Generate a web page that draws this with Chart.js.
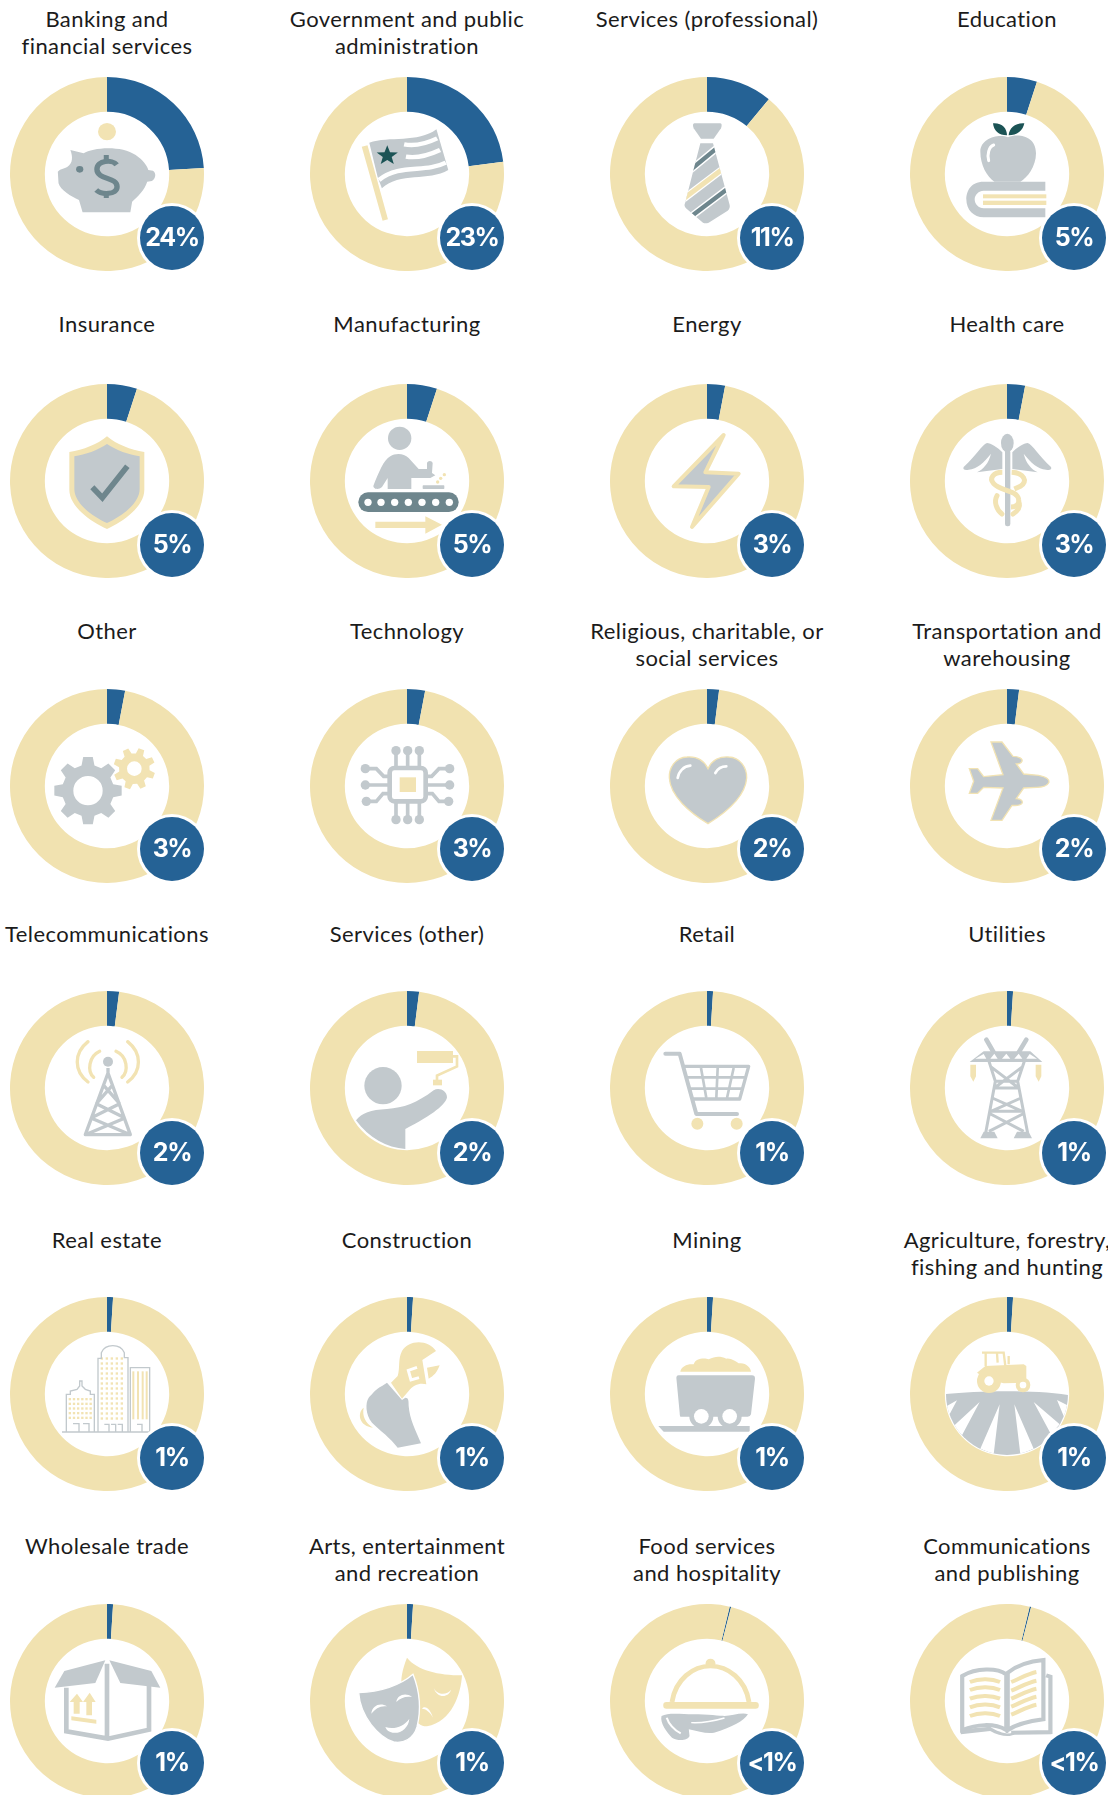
<!DOCTYPE html>
<html>
<head>
<meta charset="utf-8">
<title>Respondents by industry</title>
<script src="https://cdn.jsdelivr.net/npm/chart.js@4"></script>
<style>
  html, body { margin: 0; padding: 0; background: #fff; width: 1108px; height: 1795px; overflow: hidden; }
  #page { position: relative; width: 1108px; height: 1795px; overflow: hidden; font-family: Lato, sans-serif; }
  .title { position: absolute; width: 300px; text-align: center; white-space: pre-line; font-size: 22px; line-height: 27px; letter-spacing: 0.42px; color: #1b1b1b; }
  canvas { position: absolute; }
  .icon { position: absolute; width: 124px; height: 124px; overflow: visible; }
  .badge { position: absolute; width: 64px; height: 64px; line-height: 63px; border-radius: 50%; background: #256295; box-shadow: 0 0 0 3px #fff; color: #fff; text-align: center; font-family: Inter, sans-serif; font-weight: 700; font-size: 25px; letter-spacing: -1.4px; }
  .g { fill: #c2c9cd; } .y { fill: #f2e3b3; } .d { fill: #6e868d; } .n { fill: #1b5355; } .w { fill: #fff; }
  .sg, .sy, .sd, .sw { fill: none; }
  .sg { stroke: #c2c9cd; } .sy { stroke: #f2e3b3; } .sd { stroke: #6e868d; } .sw { stroke: #fff; }
</style>
</head>
<body>
<div id="page"></div>
<script>
const categories = [
  'Banking and\nfinancial services', 'Government and public\nadministration', 'Services (professional)', 'Education',
  'Insurance', 'Manufacturing', 'Energy', 'Health care',
  'Other', 'Technology', 'Religious, charitable, or\nsocial services', 'Transportation and\nwarehousing',
  'Telecommunications', 'Services (other)', 'Retail', 'Utilities',
  'Real estate', 'Construction', 'Mining', 'Agriculture, forestry,\nfishing and hunting',
  'Wholesale trade', 'Arts, entertainment\nand recreation', 'Food services\nand hospitality', 'Communications\nand publishing'
];
const shares = [24, 23, 11, 5, 5, 5, 3, 3, 3, 3, 2, 2, 2, 2, 1, 1, 1, 1, 1, 1, 1, 1, 0.25, 0.25];
const shareLabels = ['24%', '23%', '11%', '5%', '5%', '5%', '3%', '3%', '3%', '3%', '2%', '2%', '2%', '2%', '1%', '1%', '1%', '1%', '1%', '1%', '1%', '1%', '<1%', '<1%'];
const sliverRotation = 13.5; // the <1% rings start off the vertical

const columnCenters = [107, 407, 707, 1007];
const rowCenters = [174, 481, 786, 1088, 1394, 1701];
const titleTops = [5, 310, 617, 920, 1226, 1532];
const badgeXs = [172, 472, 772, 1074];
const badgeYs = [238, 545, 849, 1153, 1458, 1763];

const BLUE = '#256295';
const YELLOW = '#f1e2b0';

function star(cx, cy, r) {
  let pts = [];
  for (let i = 0; i < 10; i++) {
    const a = -Math.PI / 2 + i * Math.PI / 5;
    const rr = i % 2 ? r * 0.42 : r;
    pts.push((cx + rr * Math.cos(a)).toFixed(1) + ',' + (cy + rr * Math.sin(a)).toFixed(1));
  }
  return pts.join(' ');
}

function gear(cx, cy, outer, root, hole, teeth, rot) {
  let d = '';
  const step = Math.PI * 2 / teeth;
  for (let i = 0; i < teeth; i++) {
    const a = rot + i * step - Math.PI / 2;
    const p = [[root, a - step * 0.32], [outer, a - step * 0.18], [outer, a + step * 0.18], [root, a + step * 0.32]];
    p.forEach((q, k) => {
      d += (i === 0 && k === 0 ? 'M' : 'L') + (cx + q[0] * Math.cos(q[1])).toFixed(1) + ',' + (cy + q[0] * Math.sin(q[1])).toFixed(1);
    });
  }
  d += 'Z M' + (cx + hole) + ',' + cy + ' a' + hole + ',' + hole + ' 0 1 0 ' + (-2 * hole) + ',0 a' + hole + ',' + hole + ' 0 1 0 ' + (2 * hole) + ',0Z';
  return d;
}

function dots(x0, y0, nx, ny, dx, dy, size) {
  let s = '';
  for (let i = 0; i < nx; i++) for (let j = 0; j < ny; j++) {
    s += `<rect class="y" x="${x0 + i * dx}" y="${y0 + j * dy}" width="${size}" height="${size}"/>`;
  }
  return s;
}

// icons are sketched in zoomed-picture units, 372 units across the hole of the ring
const icons = [
  // piggy bank
  `<g transform="scale(1.077,1) translate(-300,-522)">
    <ellipse class="y" cx="300" cy="395" rx="25" ry="26"/>
    <path class="g" d="M198,450 L235,460 C260,442 340,435 380,465 C400,480 412,497 415,510 L428,512 C438,520 436,535 425,543 L412,545 C405,570 385,590 370,605 L365,637 L232,637 L222,600 C200,590 170,570 165,550 L163,515 C170,505 185,505 190,500 C205,490 205,470 198,450Z"/>
    <circle class="d" cx="224" cy="508" r="10"/>
    <path class="sd" stroke-width="15" d="M327,494 C315,478 272,480 272,508 C272,540 328,530 328,560 C328,585 285,585 270,570"/>
    <path class="sd" stroke-width="14" d="M298,465 V482 M298,578 V594"/>
  </g>`,
  // flag
  `<g transform="scale(1.077,1) translate(-1140,-522)">
    <polygon class="y" points="1014,440 1030,436 1087,658 1072,662"/>
    <path class="g" d="M1035,428 C1090,408 1170,430 1222,388 L1255,510 C1200,545 1120,515 1070,565 L1058,530Z"/>
    <path class="sw" stroke-width="13" d="M1132,433 C1165,440 1195,430 1224,415 M1137,470 C1170,476 1200,466 1232,450 M1062,540 C1120,490 1190,520 1248,488"/>
    <polygon class="n" points="${star(1085, 467, 31)}"/>
  </g>`,
  // tie
  `<g transform="translate(-200,-222)">
    <clipPath id="tieClip"><path d="M180,130 L218,130 L268,315 Q270,325 262,332 L205,368 Q195,372 188,368 L137,325 Q130,318 134,310Z"/></clipPath>
    <path class="g" d="M162,70 L240,70 Q247,72 242,85 L220,116 L182,116 L160,85 Q155,72 162,70Z"/>
    <path class="g" d="M180,130 L218,130 L268,315 Q270,325 262,332 L205,368 Q195,372 188,368 L137,325 Q130,318 134,310Z"/>
    <g clip-path="url(#tieClip)">
      <path class="sw" stroke-width="22" d="M235,140 L150,210 M250,205 L125,300 M270,260 L145,355"/>
      <path class="sd" stroke-width="13" d="M235,140 L150,210 M270,260 L145,355"/>
      <path class="sy" stroke-width="15" d="M250,205 L125,300"/>
    </g>
  </g>`,
  // apple on book
  `<g transform="translate(-1100,-222)">
    <path class="n" d="M1058,70 C1085,68 1100,85 1100,106 C1075,106 1060,92 1058,70Z M1152,70 C1125,68 1106,85 1105,106 C1130,106 1148,92 1152,70Z"/>
    <path class="g" d="M1103,112 C1130,100 1187,105 1187,160 C1187,200 1160,235 1140,245 L1062,245 C1040,230 1020,195 1020,155 C1020,115 1075,100 1103,112Z"/>
    <path class="sw" stroke-width="9" stroke-linecap="round" d="M1060,135 C1045,140 1040,165 1045,182"/>
    <path class="g" d="M1215,245 L1030,245 C990,245 978,275 978,298 C978,330 1000,352 1030,352 L1215,352 L1215,325 L1030,325 C1015,325 1003,312 1003,298 C1003,285 1015,272 1030,272 L1215,272Z"/>
    <rect class="y" x="1028" y="283" width="190" height="12"/><rect class="y" x="1028" y="302" width="190" height="13"/>
  </g>`,
  // shield
  `<g transform="translate(-200,-214)">
    <path class="y" d="M200,80 C230,105 270,120 312,127 L312,240 C312,290 250,335 200,358 C150,335 87,290 87,240 L87,127 C130,120 170,105 200,80Z"/>
    <path class="g" d="M200,103 C228,122 265,135 298,140 L298,238 C298,280 245,320 200,340 C155,320 102,280 102,238 L102,140 C135,135 172,122 200,103Z"/>
    <polyline class="sd" stroke-width="17" points="156,233 186,264 261,170"/>
  </g>`,
  // worker at conveyor
  `<g transform="translate(-1100,-214)">
    <circle class="g" cx="1078" cy="86" r="35"/>
    <path class="g" d="M1000,226 C1015,190 1030,150 1050,140 C1065,130 1090,130 1105,145 L1135,178 L1160,178 L1160,160 C1162,152 1175,152 1177,160 L1175,190 L1185,197 L1170,205 L1113,205 L1113,238 L1042,238 L1042,205 L1025,232 C1015,242 995,238 1000,226Z"/>
    <rect class="g" x="1147" y="227" width="65" height="11" rx="2"/>
    <circle class="y" cx="1212" cy="195" r="5"/><circle class="y" cx="1201" cy="206" r="5"/><circle class="y" cx="1192" cy="217" r="5"/>
    <rect class="d" x="954" y="248" width="301" height="59" rx="29"/>
    ${[983, 1022, 1063, 1104, 1145, 1186, 1227].map(x => `<circle class="w" cx="${x}" cy="278" r="11"/>`).join('')}
    <path class="y" d="M1005,336 L1155,336 L1155,320 L1205,345 L1155,372 L1155,355 L1005,355Z"/>
  </g>`,
  // lightning bolt
  `<g transform="translate(-200,-214)">
    <path class="g" style="stroke:#f2e3b3;stroke-width:12;stroke-linejoin:round" d="M250,76 L100,230 L205,232 L155,352 L295,192 L195,188Z"/>
  </g>`,
  // caduceus
  `<g transform="translate(-1100,-214)">
    <ellipse class="g" cx="1101" cy="100" rx="19" ry="28"/>
    <rect class="g" x="1094" y="120" width="16" height="230" rx="7"/>
    <path id="wing" class="g" d="M1086,128 C1075,115 1050,100 1040,100 C1025,105 1005,140 970,172 C966,180 975,183 985,180 C1010,178 1030,160 1052,132 C1045,160 1030,178 1010,188 L1086,178Z"/>
    <use href="#wing" transform="translate(2202,0) scale(-1,1)"/>
    <path class="sy" stroke-width="15" d="M1086,188 C1060,188 1045,205 1060,222 C1080,245 1130,240 1135,270 C1138,285 1125,292 1112,292"/>
    <path class="sy" stroke-width="15" d="M1114,188 C1150,190 1165,215 1140,230 L1122,238"/>
    <path class="sy" stroke-width="15" stroke-linecap="round" d="M1070,258 C1060,275 1068,300 1085,313 M1137,282 C1140,295 1130,305 1118,313"/>
  </g>`,
  // gears
  `<g transform="translate(-200,-214)">
    <path class="g" fill-rule="evenodd" d="${gear(143, 228, 102, 78, 44, 8, 0)}"/>
    <path class="y" fill-rule="evenodd" d="${gear(282, 162, 63, 46, 22, 8, 0.35)}"/>
  </g>`,
  // chip
  `<g transform="translate(-1100,-214)">
    <rect class="sg" stroke-width="14" x="1048" y="160" width="108" height="100" rx="14"/>
    <rect class="y" x="1078" y="188" width="49" height="44"/>
    <path class="sg" stroke-width="11" d="M1067,155 V108 M1102,155 V108 M1137,155 V108 M1067,265 V315 M1102,265 V315 M1137,265 V315
      M975,162 H1008 L1030,185 H1048 M975,211 H1048 M978,260 H1008 L1028,237 H1048
      M1228,162 H1196 L1174,185 H1156 M1228,211 H1156 M1225,260 H1196 L1176,237 H1156"/>
    ${[[1067, 108], [1102, 108], [1137, 108], [1067, 315], [1102, 315], [1137, 315], [975, 162], [975, 211], [978, 260], [1228, 162], [1228, 211], [1225, 260]].map(p => `<circle class="g" cx="${p[0]}" cy="${p[1]}" r="14"/>`).join('')}
  </g>`,
  // heart
  `<g transform="translate(-200,-214)">
    <path class="g" style="stroke:#f2e3b3;stroke-width:4" d="M203,162 C190,135 165,125 140,127 C105,128 85,160 87,190 C90,245 150,295 203,327 C255,295 315,245 319,190 C320,160 300,128 265,127 C240,125 215,135 203,162Z"/>
    <path class="sw" stroke-width="8" stroke-linecap="round" d="M112,190 C115,170 130,155 150,153 M225,175 C232,162 245,155 258,155"/>
  </g>`,
  // plane
  `<g transform="translate(-1100,-214)">
    <path class="g" style="stroke:#f2e3b3;stroke-width:4" d="M1052,82 L1085,82 L1118,125 C1135,125 1148,132 1145,140 C1142,148 1130,148 1128,148 L1150,178 L1195,182 C1220,187 1228,195 1226,203 C1222,213 1205,218 1190,218 L1150,220 L1128,252 C1145,252 1148,262 1145,266 C1140,272 1125,273 1115,272 L1085,317 L1052,317 L1088,220 L1030,218 L1012,236 L987,236 L1000,200 L987,162 L1012,162 L1030,186 L1088,180Z"/>
  </g>`,
  // antenna
  `<g transform="translate(-200,-215)">
    <path class="sy" stroke-width="10" stroke-linecap="round" d="M143,76 C100,110 100,165 143,197 M178,105 C145,120 140,165 160,183 M262,76 C305,110 305,165 262,197 M227,105 C262,120 265,165 245,183"/>
    <circle class="g" cx="203" cy="136" r="15"/>
    <path class="sg" stroke-width="10" stroke-linejoin="round" d="M203,155 V180 M135,355 L203,170 L270,355 Z M188,205 L238,262 M218,205 L168,262 M168,262 L254,305 M238,262 L152,305 M152,305 L270,355 M254,305 L135,355"/>
  </g>`,
  // painter
  `<g transform="translate(-1100,-215)">
    <circle class="g" cx="1028" cy="208" r="56"/>
    <path class="g" d="M947,312 C965,290 990,280 1040,278 C1090,275 1130,260 1180,222 C1195,212 1220,222 1220,243 C1218,262 1180,295 1095,338 L1095,398 C1040,395 985,365 947,312Z"/>
    <rect class="y" x="1130" y="104" width="108" height="36"/>
    <path class="sy" stroke-width="8" d="M1238,120 L1250,120 L1250,150 L1190,178 L1190,195"/>
    <rect class="y" x="1178" y="190" width="27" height="17"/>
  </g>`,
  // cart
  `<g transform="translate(-200,-215)">
    <path class="sg" stroke-width="12" stroke-linecap="round" stroke-linejoin="round" d="M75,112 L118,112 L168,293 L290,293"/>
    <path class="sg" stroke-width="10" stroke-linejoin="round" d="M130,150 L325,150 L298,248 L155,248"/>
    <path class="sg" stroke-width="8" d="M138,183 H316 M148,217 H306 M182,155 L198,245 M232,155 L228,245 M280,155 L260,245"/>
    <circle class="y" cx="171" cy="322" r="18"/><circle class="y" cx="289" cy="322" r="18"/>
  </g>`,
  // pylon
  `<g transform="translate(-1100,-215)">
    <path class="sg" stroke-width="14" stroke-linecap="round" d="M1038,70 L1060,108 M1158,70 L1135,108"/>
    <polygon class="g" points="988,137 1030,105 1170,105 1206,137"/>
    <path class="w" d="M1005,127 L1030,113 L1038,127Z M1050,127 L1062,112 L1072,127Z M1085,127 L1098,112 L1110,127Z M1122,127 L1135,112 L1146,127Z M1158,127 L1168,113 L1190,127Z"/>
    <path class="sg" stroke-width="9" d="M1046,135 L1065,195 L1036,350 M1152,135 L1132,195 L1162,350 M1050,150 L1135,215 M1148,150 L1062,215 M1065,195 H1132 M1058,215 H1140 M1056,245 L1146,285 M1142,245 L1052,285 M1048,285 H1150 M1045,290 L1150,345 M1153,290 L1046,345"/>
    <path class="g" d="M1020,366 L1030,346 L1062,346 L1072,366Z M1120,366 L1130,346 L1165,346 L1175,366Z"/>
    <path class="y" d="M990,145 L1007,145 L1007,180 L999,196 L990,180Z M1186,145 L1203,145 L1203,180 L1195,196 L1186,180Z"/>
  </g>`,
  // buildings
  `<g transform="translate(-200,-214)">
    ${dots(85, 226, 6, 5, 12.5, 14, 7)}${dots(181, 104, 5, 13, 15, 15, 7)}
    ${[276, 290, 304, 316].map(x => `<rect class="y" x="${x}" y="146" width="6" height="144"/>`).join('')}
    <path class="sg" stroke-width="4" d="M65,328 H326 M78,328 V215 H90 V205 L110,200 L118,190 V175 H125 V190 L135,200 L150,205 V215 H162 V328 M173,328 V107 H183 V90 C195,62 240,62 252,90 V105 H263 V328 M270,328 V135 H328 V328
      M98,303 h18 v25 M128,303 h18 v25 M192,305 h14 v23 M212,305 h14 v23 M232,305 h14 v23 M290,305 h15 v23"/>
  </g>`,
  // wrench and fist
  `<g transform="translate(-1100,-214)">
    <path class="y" d="M1187,85 C1165,50 1105,50 1085,85 C1072,110 1080,135 1072,160 L1052,180 L1085,228 L1105,205 C1120,185 1140,180 1158,185 L1146,112Z M1160,135 L1198,128 C1190,150 1180,160 1165,168Z"/>
    <path class="sw" stroke-width="9" d="M1130,134 L1104,143 L1112,172 L1136,165"/>
    <path class="y" d="M970,255 C950,270 955,310 998,315 C975,300 965,280 970,255Z"/>
    <path class="g" d="M1040,180 L1085,232 L1095,225 C1105,225 1105,235 1105,250 C1108,290 1125,320 1142,362 L1072,375 C1050,345 1020,325 995,300 C975,275 975,240 985,225 C995,215 1005,200 1025,190Z"/>
  </g>`,
  // mine cart
  `<g transform="translate(-200,-214)">
    <path class="y" d="M120,147 C122,130 145,122 160,125 C165,105 195,105 205,110 C225,100 240,100 258,108 C270,105 290,118 295,122 C315,118 332,135 332,147Z"/>
    <path class="g" d="M108,165 Q108,158 115,158 L335,158 Q344,158 344,168 L332,275 Q330,282 322,282 L120,282 Q118,280 118,270Z"/>
    <circle class="g" cx="183" cy="281" r="36"/><circle class="g" cx="268" cy="281" r="36"/>
    <circle class="w" cx="183" cy="281" r="22"/><circle class="w" cx="268" cy="281" r="22"/>
    <polygon class="g" points="54,310 328,310 328,327 70,327"/>
  </g>`,
  // tractor on a field
  `<g transform="translate(-1100,-214)">
    <clipPath id="fieldClip"><circle cx="1100" cy="214" r="183"/></clipPath>
    <g clip-path="url(#fieldClip)">
      <path class="g" d="M910,215 C1000,205 1180,200 1290,218 L1290,400 L910,400Z"/>
      <path class="w" d="M1018,238 L940,310 L965,338Z M1078,245 L1020,378 L1060,395Z M1122,245 L1140,395 L1180,378Z M1180,238 L1232,335 L1258,305Z M950,233 L905,258 L925,280Z M1250,232 L1295,255 L1270,280Z"/>
    </g>
    <path class="y" d="M1010,150 L1035,130 L1150,125 L1158,130 L1158,180 L1090,182 L1040,170Z"/>
    <path class="sy" stroke-width="7" d="M1025,90 L1090,90 L1095,130 M1036,92 V130 M1070,92 L1072,120 M1105,100 V125"/>
    <circle class="y" cx="1046" cy="175" r="36"/><circle class="w" cx="1046" cy="175" r="14"/>
    <circle class="y" cx="1148" cy="187" r="22"/><circle class="w" cx="1148" cy="187" r="10"/>
  </g>`,
  // box
  `<g transform="translate(-200,-212)">
    <polygon class="g" points="43,172 72,122 195,90 165,158"/>
    <polygon class="g" points="207,90 333,122 360,172 240,158"/>
    <path class="sg" stroke-width="14" d="M78,172 V303 L203,325 L326,298 V165 M200,100 V322"/>
    <path class="y" d="M100,250 V215 H88 L110,190 L128,215 H118 V250Z M138,255 V215 H128 L148,187 L166,215 H155 V255Z M93,258 L168,268 V280 L93,270Z"/>
  </g>`,
  // theatre masks
  `<g transform="translate(-1100,-212)">
    <path class="y" d="M1100,82 C1130,120 1195,135 1265,135 C1262,190 1235,275 1160,288 C1130,290 1100,250 1085,170 C1080,150 1085,120 1100,82Z"/>
    <path class="w" d="M1180,172 C1190,195 1220,195 1232,178 C1225,203 1190,205 1180,172Z M1145,235 C1155,222 1172,240 1178,262 C1170,245 1155,235 1145,235Z"/>
    <path class="g" style="stroke:#fff;stroke-width:4" d="M955,187 C1020,185 1080,165 1118,132 C1135,175 1145,230 1130,290 C1120,325 1090,340 1060,335 C1015,320 960,260 955,187Z"/>
    <path class="w" d="M993,250 C995,225 1020,215 1040,228 C1020,225 1005,235 993,250Z M1068,215 C1070,195 1095,185 1115,200 C1095,197 1080,203 1068,215Z M1035,290 C1060,298 1090,290 1107,265 C1105,295 1075,315 1050,305 C1040,302 1037,295 1035,290Z"/>
  </g>`,
  // cloche and hand
  `<g transform="scale(1.05,1) translate(-420,-545)">
    <circle class="y" cx="430" cy="432" r="14"/>
    <path class="sy" stroke-width="14" d="M320,548 C330,480 380,440 430,440 C480,440 530,480 540,548"/>
    <rect class="y" x="295" y="548" width="273" height="20" rx="9"/>
    <path class="g" d="M290,590 C310,578 350,585 380,585 C420,585 460,590 470,590 C490,590 520,578 537,585 C525,605 490,625 440,640 C420,645 395,635 368,630 L370,650 C365,665 335,665 320,655 C305,640 285,610 290,590Z"/>
    <path class="sw" stroke-width="6" d="M305,595 C310,612 325,632 345,642"/>
    <path class="sw" stroke-width="4" d="M375,610 C410,612 440,605 470,596"/>
  </g>`,
  // open book
  `<g transform="scale(1.05,1) translate(-1278,-545)">
    <path class="sg" stroke-width="12" d="M1150,632 V470 C1190,445 1250,445 1276,465 V632 C1240,610 1190,615 1150,632Z M1280,632 V460 C1310,435 1350,425 1382,422 V600 C1345,605 1305,615 1280,632Z M1390,468 L1402,472 V638 L1290,640"/>
    <path class="g" d="M1146,630 L1230,622 C1255,640 1290,650 1300,635 L1405,635 L1405,645 L1300,645 C1285,655 1255,650 1230,635 L1146,645Z"/>
    <path class="sy" stroke-width="12" d="M1172,488 C1200,476 1235,478 1258,488 M1172,512 C1200,500 1235,502 1258,512 M1172,538 C1200,526 1235,528 1258,538 M1172,564 C1200,552 1235,554 1258,564 M1172,590 C1200,578 1235,580 1258,590"/>
    <path class="sy" stroke-width="12" d="M1290,488 C1310,480 1340,462 1362,458 M1290,514 C1310,506 1340,488 1362,484 M1290,538 C1310,530 1340,512 1362,508 M1290,562 C1310,554 1340,536 1362,532 M1290,586 C1310,578 1340,560 1362,556"/>
  </g>`
];

const page = document.getElementById('page');

categories.forEach((name, i) => {
  const col = i % 4;
  const cx = columnCenters[col];
  const row = Math.floor(i / 4);
  const cy = rowCenters[row];

  const title = document.createElement('div');
  title.className = 'title';
  title.style.left = (cx - 150) + 'px';
  title.style.top = titleTops[row] + 'px';
  title.textContent = name;
  page.appendChild(title);

  const canvas = document.createElement('canvas');
  canvas.width = 194;
  canvas.height = 194;
  canvas.style.left = (cx - 97) + 'px';
  canvas.style.top = (cy - 97) + 'px';
  page.appendChild(canvas);

  new Chart(canvas.getContext('2d'), {
    type: 'doughnut',
    data: {
      labels: [name, 'Everything else'],
      datasets: [{
        data: [shares[i], 100 - shares[i]],
        backgroundColor: [BLUE, YELLOW],
        borderWidth: 0
      }]
    },
    options: {
      responsive: false,
      animation: false,
      cutout: '64.1%',
      rotation: shares[i] < 1 ? sliverRotation : 0,
      plugins: { legend: { display: false }, tooltip: { enabled: false } }
    }
  });

  const holder = document.createElement('div');
  holder.innerHTML = `<svg class="icon" viewBox="-186 -186 372 372" style="left:${cx - 62}px;top:${cy - 62}px">${icons[i]}</svg>`;
  page.appendChild(holder);

  const badge = document.createElement('div');
  badge.className = 'badge';
  badge.style.left = (badgeXs[col] - 32) + 'px';
  badge.style.top = (badgeYs[row] - 32) + 'px';
  badge.textContent = shareLabels[i];
  page.appendChild(badge);
});
</script>
</body>
</html>
